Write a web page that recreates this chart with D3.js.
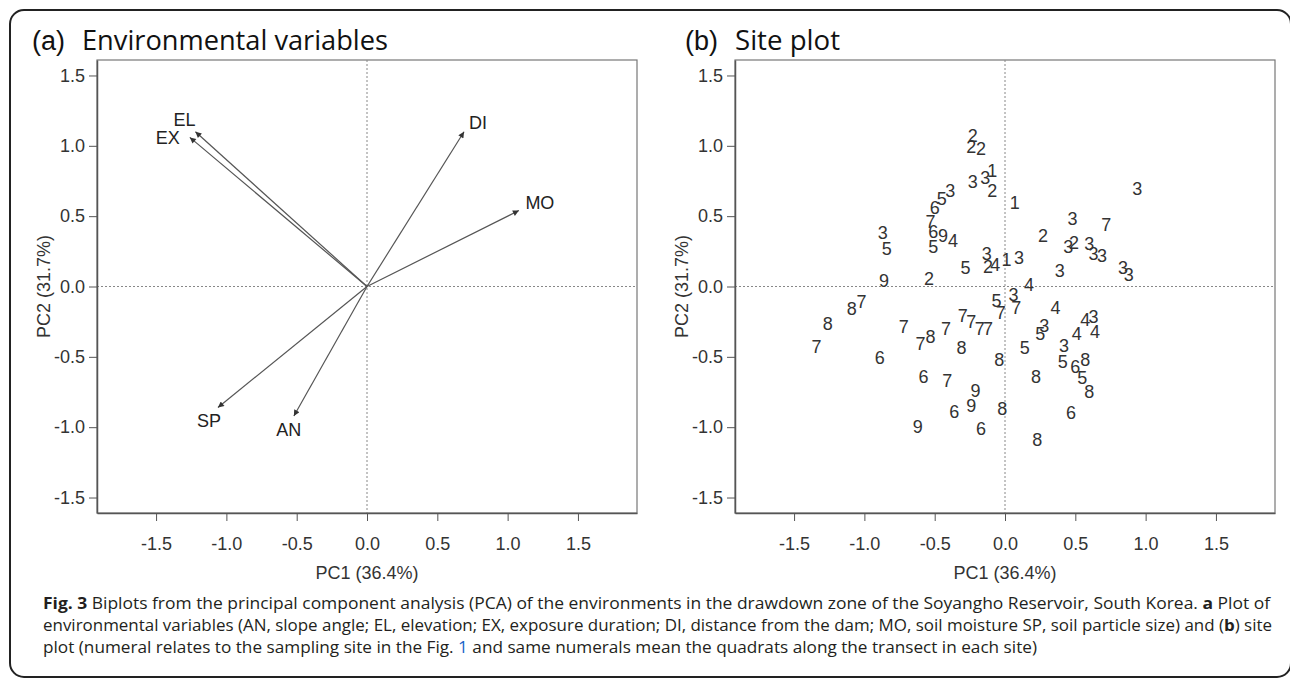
<!DOCTYPE html>
<html>
<head>
<meta charset="utf-8">
<script src="https://cdn.jsdelivr.net/npm/d3@7"></script>
<style>
  body { margin: 0; background: #fff; }
  svg { display: block; }
  .axis text { font-family: "Liberation Sans", Arial, sans-serif; font-size: 18px; fill: #333; }
  .axis path, .axis line { stroke: #555; }
</style>
</head>
<body>
<script>
// environmental variable loadings (panel a)
var varNames = ['EL', 'EX', 'DI', 'MO', 'SP', 'AN'];
var varPC1 = [-1.22, -1.26, 0.69, 1.08, -1.06, -0.52];
var varPC2 = [1.10, 1.06, 1.10, 0.54, -0.86, -0.92];

// site scores (panel b), label = site number
var siteLabels = [2, 2, 2, 1, 3, 3, 2, 3, 5, 6, 1, 3, 7, 6, 9, 4, 3, 5, 5, 3, 7, 2, 3, 2, 3, 3, 3, 3, 2, 4, 1, 3, 5, 3, 3, 3, 9, 2, 4,
  5, 3, 7, 4, 8, 7, 8, 7, 7, 7, 7, 7, 7, 7, 7, 7, 8, 6, 8, 8, 5, 3, 5, 4, 3, 4, 4, 3, 5, 6, 8, 5, 8, 8, 6, 7, 9, 9, 6, 8, 6, 9, 6, 8];
var sitePC1 = [-0.23, -0.24, -0.17, -0.09, -0.14, -0.23, -0.09, -0.39, -0.45, -0.50, 0.07, 0.94, -0.53, -0.51, -0.44, -0.37, -0.87, -0.84, -0.51, 0.48,
  0.72, 0.27, 0.45, 0.49, 0.60, 0.63, 0.69, -0.13, -0.12, -0.07, 0.01, 0.10, -0.28, 0.39, 0.84, 0.88, -0.86, -0.54, 0.17,
  -0.06, 0.06, 0.08, 0.36, -1.09, -1.02, -1.26, -1.34, -0.30, -0.24, -0.18, -0.12, -0.03, -0.72, -0.42, -0.60, -0.53, -0.89, -0.31, -0.04,
  0.14, 0.28, 0.25, 0.57, 0.63, 0.51, 0.64, 0.42, 0.41, 0.50, 0.57, 0.55, 0.60, 0.22, -0.58, -0.41, -0.21, -0.24, -0.36, -0.02, 0.47, -0.62, -0.17, 0.23];
var sitePC2 = [1.07, 0.99, 0.98, 0.82, 0.77, 0.74, 0.68, 0.68, 0.62, 0.56, 0.59, 0.69, 0.46, 0.39, 0.36, 0.32, 0.38, 0.27, 0.28, 0.48,
  0.44, 0.36, 0.28, 0.31, 0.30, 0.23, 0.22, 0.23, 0.14, 0.15, 0.19, 0.20, 0.13, 0.11, 0.13, 0.08, 0.04, 0.05, 0.01,
  -0.10, -0.06, -0.15, -0.15, -0.16, -0.11, -0.27, -0.43, -0.21, -0.25, -0.30, -0.30, -0.19, -0.29, -0.30, -0.41, -0.36, -0.51, -0.44, -0.52,
  -0.44, -0.28, -0.34, -0.24, -0.22, -0.34, -0.32, -0.42, -0.54, -0.57, -0.52, -0.65, -0.75, -0.64, -0.64, -0.67, -0.74, -0.85, -0.89, -0.87, -0.90, -1.00, -1.01, -1.09];

var tickValues = [-1.5, -1, -0.5, 0, 0.5, 1, 1.5];
var xTitle = 'PC1 (36.4%)';
var yTitle = 'PC2 (31.7%)';

// label nudges for the arrow labels (px from arrow tip)
var nudge = {EL: [-11, -12], EX: [-22, 1], DI: [14, -9], MO: [21, -8], SP: [-9, 14], AN: [-5, 14]};

var width = 1290;
var height = 681;
var plotTop = 60, plotBottom = 513;

var svg = d3.select('body')
  .append('svg')
  .attr('width', width)
  .attr('height', height);

// arrow head
svg.append('defs')
  .append('marker')
    .attr('id', 'head')
    .attr('viewBox', '0 0 10 10')
    .attr('refX', 10)
    .attr('refY', 5)
    .attr('markerWidth', 8)
    .attr('markerHeight', 6)
    .attr('markerUnits', 'userSpaceOnUse')
    .attr('orient', 'auto')
  .append('path')
    .attr('d', 'M0,0L10,5L0,10z')
    .attr('fill', '#333');

// outer frame (right side runs just past the page edge)
svg.append('rect')
  .attr('x', 10).attr('y', 10)
  .attr('width', 1281).attr('height', 667)
  .attr('rx', 14)
  .attr('fill', 'none')
  .attr('stroke', '#222')
  .attr('stroke-width', 2);

function panel(left, right, tag, title, titleX, titleW) {
  var x = d3.scaleLinear().domain([-1.92, 1.92]).range([left, right]);
  var y = d3.scaleLinear().domain([-1.61, 1.61]).range([plotBottom, plotTop]);
  var g = svg.append('g');

  // title
  g.append('text')
    .attr('x', titleX).attr('y', 50)
    .style('font-family', '"Liberation Sans", Arial, sans-serif')
    .style('font-size', '27px')
    .attr('fill', '#111')
    .text(tag);
  g.append('text')
    .attr('x', titleX + 50).attr('y', 50)
    .style('font-family', '"Open Sans", sans-serif')
    .style('font-size', '27px')
    .attr('textLength', titleW)
    .attr('lengthAdjust', 'spacingAndGlyphs')
    .attr('fill', '#111')
    .text(title);

  // box
  g.append('rect')
    .attr('x', left).attr('y', plotTop)
    .attr('width', right - left).attr('height', plotBottom - plotTop)
    .attr('fill', 'none')
    .attr('stroke', '#777')
    .attr('stroke-width', 1.2);

  // zero reference lines
  g.append('line')
    .attr('x1', x(0)).attr('x2', x(0)).attr('y1', plotTop).attr('y2', plotBottom)
    .attr('stroke', '#888').attr('stroke-dasharray', '2,2');
  g.append('line')
    .attr('x1', left).attr('x2', right).attr('y1', y(0)).attr('y2', y(0))
    .attr('stroke', '#888').attr('stroke-dasharray', '2,2');

  var fmt = function (d) { return d.toFixed(1); };
  var xAxis = d3.axisBottom(x).tickValues(tickValues).tickFormat(fmt)
    .tickSizeInner(8).tickSizeOuter(0).tickPadding(16);
  var yAxis = d3.axisLeft(y).tickValues(tickValues).tickFormat(fmt)
    .tickSizeInner(8).tickSizeOuter(0).tickPadding(4);

  g.append('g')
    .attr('class', 'axis')
    .attr('transform', 'translate(0,' + plotBottom + ')')
    .call(xAxis)
    .call(function (a) { a.select('.domain').attr('stroke', '#444').attr('stroke-width', 1.5); });
  g.append('g')
    .attr('class', 'axis')
    .attr('transform', 'translate(' + left + ',0)')
    .call(yAxis)
    .call(function (a) { a.select('.domain').attr('stroke', '#444').attr('stroke-width', 1.5); });

  // axis titles
  g.append('text')
    .attr('text-anchor', 'middle')
    .attr('x', x(0)).attr('y', 579)
    .style('font-family', '"Liberation Sans", Arial, sans-serif')
    .style('font-size', '18px')
    .attr('fill', '#333')
    .text(xTitle);
  g.append('text')
    .attr('text-anchor', 'middle')
    .attr('transform', 'translate(' + (left - 47) + ',' + y(0) + ')rotate(-90)')
    .style('font-family', '"Liberation Sans", Arial, sans-serif')
    .style('font-size', '18px')
    .attr('fill', '#333')
    .text(yTitle);

  return {g: g, x: x, y: y};
}

// (a) environmental variables
var pa = panel(97, 637, '(a)', 'Environmental variables', 32, 306);

pa.g.selectAll('.arrow')
  .data(varNames)
  .enter()
  .append('line')
    .attr('class', 'arrow')
    .attr('x1', pa.x(0)).attr('y1', pa.y(0))
    .attr('x2', function (d, i) { return pa.x(varPC1[i]); })
    .attr('y2', function (d, i) { return pa.y(varPC2[i]); })
    .attr('stroke', '#555')
    .attr('stroke-width', 1.2)
    .attr('marker-end', 'url(#head)');

pa.g.selectAll('.vlab')
  .data(varNames)
  .enter()
  .append('text')
    .attr('class', 'vlab')
    .attr('text-anchor', 'middle')
    .attr('dominant-baseline', 'central')
    .attr('x', function (d, i) { return pa.x(varPC1[i]) + nudge[d][0]; })
    .attr('y', function (d, i) { return pa.y(varPC2[i]) + nudge[d][1]; })
    .style('font-family', '"Liberation Sans", Arial, sans-serif')
    .style('font-size', '18px')
    .attr('fill', '#222')
    .text(function (d) { return d; });

// (b) site plot
var pb = panel(735, 1275, '(b)', 'Site plot', 685, 105);

pb.g.selectAll('.site')
  .data(siteLabels)
  .enter()
  .append('text')
    .attr('class', 'site')
    .attr('text-anchor', 'middle')
    .attr('dominant-baseline', 'central')
    .attr('x', function (d, i) { return pb.x(sitePC1[i]); })
    .attr('y', function (d, i) { return pb.y(sitePC2[i]); })
    .style('font-family', '"Liberation Sans", Arial, sans-serif')
    .style('font-size', '18px')
    .attr('fill', '#333')
    .text(function (d) { return d; });

// caption
var caption = svg.append('g')
  .style('font-family', '"Open Sans", sans-serif')
  .style('font-size', '16px')
  .attr('fill', '#231f20');

var l1 = caption.append('text').attr('x', 43).attr('y', 609)
  .attr('textLength', 1227).attr('lengthAdjust', 'spacingAndGlyphs');
l1.append('tspan').style('font-weight', 'bold').text('Fig. 3');
l1.append('tspan').text(' Biplots from the principal component analysis (PCA) of the environments in the drawdown zone of the Soyangho Reservoir, South Korea. ');
l1.append('tspan').style('font-weight', 'bold').text('a');
l1.append('tspan').text(' Plot of');

var l2 = caption.append('text').attr('x', 43).attr('y', 631)
  .attr('textLength', 1229).attr('lengthAdjust', 'spacingAndGlyphs');
l2.append('tspan').text('environmental variables (AN, slope angle; EL, elevation; EX, exposure duration; DI, distance from the dam; MO, soil moisture SP, soil particle size) and (');
l2.append('tspan').style('font-weight', 'bold').text('b');
l2.append('tspan').text(') site');

var l3 = caption.append('text').attr('x', 43).attr('y', 653)
  .attr('textLength', 994).attr('lengthAdjust', 'spacingAndGlyphs');
l3.append('tspan').text('plot (numeral relates to the sampling site in the Fig. ');
l3.append('tspan').attr('fill', '#1a64c8').text('1');
l3.append('tspan').text(' and same numerals mean the quadrats along the transect in each site)');
</script>
</body>
</html>
